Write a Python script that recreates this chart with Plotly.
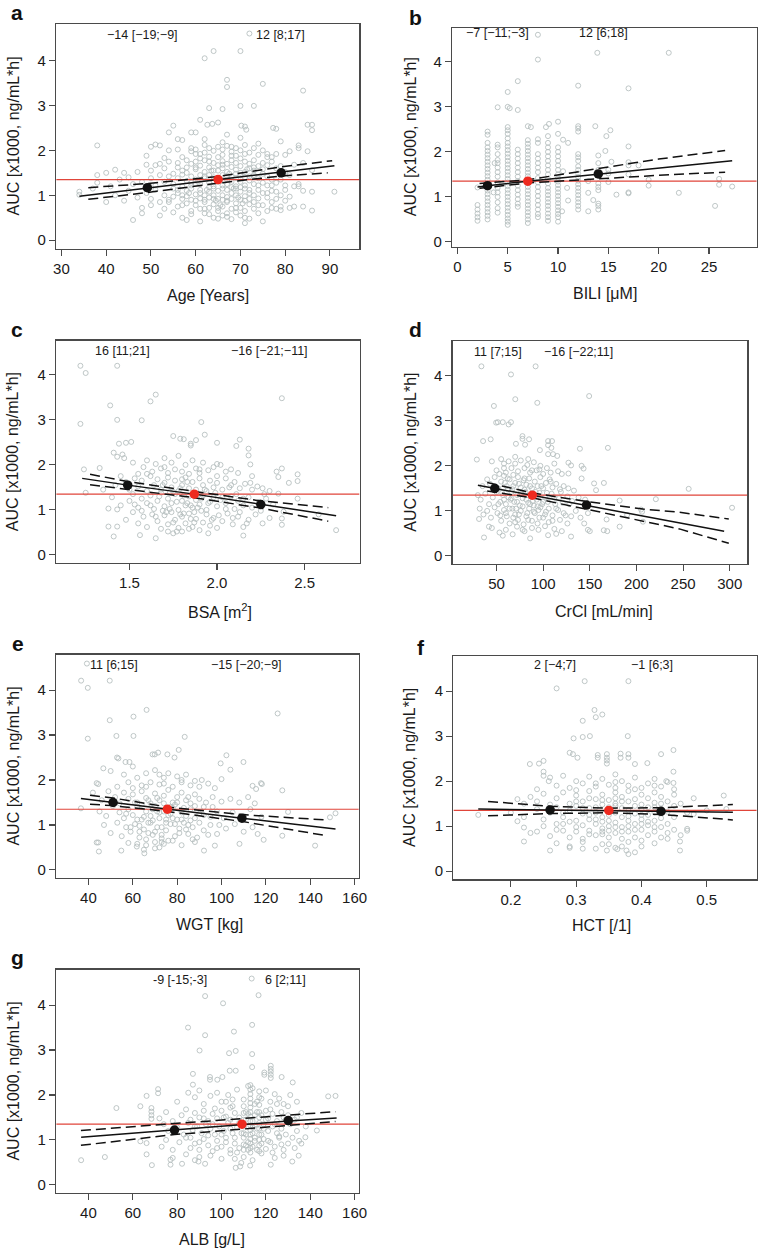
import plotly.graph_objects as go

W, H = 767, 1254
MEDIAN_AUC = 1.35

# ---------------- data: (covariate, AUC x1000) ----------------
age_points = [
(72,4.60),(64,4.21),(70,4.21),(62,4.05),(67,3.57),(67,3.41),(75,3.48),(84,3.33),(63,2.94),(66,2.92),(70,2.99),(73,2.99),
(38,2.11),(61,2.68),(62.6,2.57),(63.7,2.59),(65,2.62),(67,2.35),(70.2,2.55),(71,2.53),(71.3,2.46),(77.3,2.50),(78,2.48),(85,2.57),(86,2.57),(86,2.45),(55,2.55),(54,2.40),(59,2.40),(60,2.40),(56,2.25),(57,2.23),(50,2.08),(51,2.13),(52,2.11),(79,2.20),(83,2.11),(83,2.05),(85,1.98),(62,2.25),
(54,2.0),(56,2.02),(59,2.05),(59,1.98),(60,2.02),(61,1.92),(62,1.95),(63,2.05),(64,1.99),(65,2.08),(66,2.02),(66,1.9),(67,2.1),(68,1.97),(68,2.08),(69,2.05),(69,1.88),(70,2.0),(71,1.92),(71,2.12),(72,1.95),(73,2.05),(74,1.9),(74,2.15),(75,2.0),(76,1.92),(77,1.85),(78,1.92),(80,1.9),(81,1.98),(65,1.85),(57,1.85),(53,1.83),(49,1.88),(61,1.82),(63,1.86),
(38,1.45),(40,1.5),(42,1.57),(44,1.5),(47,1.52),(49,1.68),(50,1.55),(51,1.67),(52,1.7),(53,1.6),(54,1.75),(55,1.48),(56,1.62),(56,1.72),(57,1.55),(58,1.78),(58,1.62),(59,1.7),(60,1.58),(60,1.75),(61,1.66),(62,1.52),(62,1.78),(63,1.62),(64,1.72),(64,1.55),(65,1.67),(66,1.6),(66,1.76),(67,1.52),(67,1.7),(68,1.63),(68,1.78),(69,1.57),(69,1.72),(70,1.65),(70,1.5),(71,1.75),(72,1.6),(72,1.7),(73,1.55),(73,1.78),(74,1.65),(75,1.72),(75,1.58),(76,1.67),(77,1.75),(78,1.6),(79,1.65),(80,1.52),(82,1.68),(84,1.72),(86,1.56),
(34,1.08),(34,1.01),(38,1.28),(41,1.2),(43,1.35),(45,1.4),(46,1.25),(48,1.3),(50,1.38),(51,1.22),(52,1.45),(53,1.3),(54,1.42),(55,1.25),(56,1.38),(57,1.2),(57,1.46),(58,1.32),(59,1.42),(59,1.22),(60,1.35),(61,1.45),(61,1.25),(62,1.38),(63,1.28),(63,1.45),(64,1.2),(64,1.4),(65,1.3),(66,1.45),(66,1.22),(67,1.35),(67,1.25),(68,1.42),(68,1.3),(69,1.2),(69,1.38),(70,1.3),(70,1.45),(71,1.22),(71,1.4),(72,1.33),(73,1.25),(73,1.45),(74,1.38),(75,1.28),(76,1.42),(76,1.22),(77,1.35),(78,1.28),(80,1.22),(81,1.45),(83,1.25),(84,1.1),(86,1.08),(91,1.08),
(37,1.15),(40,0.85),(42,1.0),(44,0.88),(45,1.1),(47,0.95),(48,0.72),(49,1.05),(50,0.92),(51,1.12),(52,0.85),(53,1.0),(54,0.9),(55,1.15),(55,0.97),(56,1.05),(57,0.92),(58,1.1),(58,0.98),(59,0.9),(59,1.15),(60,1.02),(61,0.93),(61,1.12),(62,1.0),(62,0.9),(63,1.08),(63,0.95),(64,1.15),(64,1.0),(65,0.92),(65,1.1),(66,1.0),(66,0.9),(67,1.12),(67,0.96),(68,1.05),(68,0.92),(69,1.15),(69,1.0),(70,0.9),(70,1.08),(71,0.98),(71,1.15),(72,0.92),(72,1.05),(73,1.0),(74,0.93),(74,1.12),(75,1.05),(76,0.95),(77,1.1),(78,0.92),(79,1.0),(80,1.12),(81,0.97),(82,1.2),(83,1.2),(84,0.75),(81,0.72),(79,0.75),
(46,0.45),(48,0.6),(50,0.78),(52,0.55),(53,0.7),(54,0.85),(55,0.62),(56,0.75),(57,0.5),(58,0.82),(58,0.45),(59,0.65),(60,0.78),(61,0.42),(61,0.7),(62,0.85),(62,0.6),(63,0.72),(64,0.5),(64,0.8),(65,0.65),(66,0.75),(66,0.55),(67,0.85),(67,0.6),(68,0.7),(68,0.47),(69,0.82),(69,0.62),(70,0.72),(70,0.55),(71,0.38),(71,0.65),(72,0.8),(72,0.48),(73,0.7),(74,0.6),(75,0.42),(75,0.78),(76,0.65),(77,0.85),(78,0.7),(79,0.67),(80,0.88),(86,0.66),(82,0.75),
(60.5,1.3),(62.5,1.12),(64.5,0.88),(66.5,1.32),(68.5,1.15),(70.5,0.82),(65.5,0.78),(63.5,1.55),(67.5,1.48),(69.5,0.95),(58.5,1.05),(71.5,1.58),
(56,1.12),(57,0.78),(58,1.5),(59,1.28),(60,0.88),(60,1.62),(61,1.05),(62,1.42),(62,0.7),(63,1.18),(63,1.75),(64,0.92),(64,1.32),(65,1.55),(65,0.72),(66,1.15),(66,1.68),(67,0.88),(67,1.42),(68,1.18),(68,1.88),(69,0.72),(69,1.48),(70,1.18),(70,1.82),(71,0.88),(71,1.52),(72,1.12),(72,1.42),(73,0.85),(73,1.62),(74,1.22),(74,0.78),(75,1.48),(76,1.05),(76,1.85),(77,0.72),(77,1.22),(78,1.08),(79,1.35),(60,1.92),(62,2.12),(66,2.18),(70,2.28),(57,1.0),(59,0.58),(63,0.58),(67,0.52),(71,0.5),(65,0.48),
]
age_fit_x = [34, 49.2, 65, 79.1, 91]
age_fit_y = [0.98, 1.16, 1.35, 1.52, 1.66]
age_upper_x = [36, 49, 65, 79, 90.5]
age_upper_y = [1.17, 1.26, 1.42, 1.63, 1.77]
age_lower_x = [36, 49, 65, 79, 89.5]
age_lower_y = [0.91, 1.06, 1.27, 1.43, 1.50]
age_dots_x = [49.2, 65, 79.1]
age_dots_y = [1.17, 1.35, 1.50]
age_stats = ["\u221214 [\u221219;\u22129]", "12 [8;17]"]
age_ticks = [30, 40, 50, 60, 70, 80, 90]

bili_points = [
(2,0.47),(2,0.55),(2,0.63),(2,0.72),(2,0.82),(2,1.21),
(3,0.5),(3,0.58),(3,0.66),(3,0.74),(3,0.82),(3,0.9),(3,0.98),(3,1.06),(3,1.14),(3,1.22),(3,1.3),(3,1.38),(3,1.46),(3,1.54),(3,1.62),(3,1.7),(3,1.78),(3,1.86),(3,1.94),(3,2.02),(3,2.1),(3,2.2),(3,2.38),(3,2.45),
(4,0.65),(4,0.75),(4,0.88),(4,1.0),(4,1.1),(4,1.2),(4,1.32),(4,1.45),(4,1.55),(4,1.65),(4,1.75),(4,1.82),(4,1.95),(4,2.1),(4,2.16),(4,2.99),(3.6,1.1),(3.7,1.75),
(5,0.38),(5,0.45),(5,0.52),(5,0.6),(5,0.68),(5,0.76),(5,0.84),(5,0.92),(5,1.0),(5,1.08),(5,1.16),(5,1.24),(5,1.32),(5,1.4),(5,1.48),(5,1.56),(5,1.64),(5,1.72),(5,1.8),(5,1.88),(5,1.96),(5,2.04),(5,2.12),(5,2.2),(5,2.3),(5,2.4),(5,2.48),(5,2.55),(5,3.0),(5,3.33),(5.2,2.97),
(6,0.78),(6,0.85),(6,0.95),(6,1.05),(6,1.15),(6,1.25),(6,1.35),(6,1.45),(6,1.55),(6,1.65),(6,1.75),(6,1.85),(6,1.95),(6,2.05),(6,2.93),(6,3.57),
(7,0.42),(7,0.5),(7,0.58),(7,0.66),(7,0.74),(7,0.82),(7,0.9),(7,0.98),(7,1.06),(7,1.14),(7,1.22),(7,1.3),(7,1.38),(7,1.46),(7,1.54),(7,1.62),(7,1.7),(7,1.78),(7,1.86),(7,1.94),(7,2.02),(7,2.1),(7,2.18),(7,2.26),(7,2.57),(7.3,2.55),
(8,0.55),(8,0.62),(8,0.72),(8,0.82),(8,0.92),(8,1.02),(8,1.12),(8,1.22),(8,1.32),(8,1.42),(8,1.55),(8,1.65),(8,1.75),(8,1.85),(8,1.95),(8,2.2),(8,2.28),(8,4.05),(8,4.6),
(9,0.47),(9,0.55),(9,0.63),(9,0.72),(9,0.8),(9,0.88),(9,0.96),(9,1.04),(9,1.12),(9,1.2),(9,1.3),(9,1.4),(9,1.5),(9,1.6),(9,1.7),(9,1.8),(9,1.9),(9,2.0),(9,2.1),(9,2.2),(9,2.35),(8.8,2.55),(9.1,2.62),
(10,0.45),(10,0.55),(10,0.62),(10,0.7),(10,0.78),(10,0.86),(10,0.94),(10,1.02),(10,1.1),(10,1.18),(10,1.26),(10,1.34),(10,1.42),(10,1.5),(10,1.6),(10,1.7),(10,1.8),(10,1.9),(10,2.0),(10,2.1),(10,2.4),(10,2.67),
(10.4,0.68),(10.5,1.57),(10.9,1.2),(11,0.92),(11,2.2),(10.5,2.27),
(12,0.72),(12,0.8),(12,0.88),(12,0.96),(12,1.04),(12,1.12),(12,1.2),(12,1.28),(12,1.36),(12,1.44),(12,1.52),(12,1.6),(12,1.68),(12,1.8),(12,1.88),(12,1.95),(12,2.45),(12,2.52),(12,2.57),(12,3.47),
(13,0.68),(13,1.09),(13,1.35),
(14,0.72),(14,0.8),(14,0.85),(13.5,0.93),(14,1.15),(14,1.22),(14,1.3),(14,1.6),(14,1.75),(14,1.92),(13.7,2.57),(13.9,4.2),
(14.8,2.35),(14.7,2.02),(15.2,2.48),(15.3,1.78),(15,1.52),(15,1.33),(15.8,1.05),(15,1.6),
(17,1.77),(17,1.7),(17,1.5),(17,1.1),(17,1.08),(17,2.12),(17,3.41),
(18,1.7),(19,1.38),(19,1.25),(22,1.09),(21,4.2),(25.6,0.8),(26,1.4),(26,1.27),(27.3,1.23),
]
bili_fit_x = [2, 3, 7, 14, 27.3]
bili_fit_y = [1.22, 1.25, 1.35, 1.51, 1.80]
bili_upper_x = [2.2, 7, 14, 20, 26.6]
bili_upper_y = [1.30, 1.38, 1.63, 1.84, 2.03]
bili_lower_x = [2.2, 7, 14, 20, 26.6]
bili_lower_y = [1.19, 1.31, 1.40, 1.48, 1.55]
bili_dots_x = [3, 7, 14]
bili_dots_y = [1.25, 1.35, 1.51]
bili_stats = ["\u22127 [\u221211;\u22123]", "12 [6;18]"]
bili_ticks = [0, 5, 10, 15, 20, 25]

bsa_points = [
(1.22,4.2),(1.25,4.04),(1.43,4.2),(1.65,3.56),(1.62,3.41),(1.39,3.32),(1.43,3.0),(1.22,2.91),(1.57,2.99),(1.91,2.95),(2.37,3.48),(1.93,2.67),(1.75,2.64),(1.79,2.58),(1.81,2.57),(1.88,2.55),(1.85,2.47),(1.85,2.43),(2.0,2.49),(2.13,2.56),(2.11,2.42),(1.44,2.47),(1.48,2.49),(1.51,2.51),(1.41,2.27),(1.43,2.18),(1.46,2.23),(2.18,2.36),(2.18,2.21),(2.19,2.01),(2.37,1.92),(2.34,1.85),(2.35,1.73),(2.41,1.6),(2.46,1.79),(2.46,1.64),(2.68,0.55),(2.58,0.9),(2.37,0.67),(2.37,0.81),(2.38,0.96),(2.46,1.25),(2.35,1.36),(1.24,1.9),(1.25,1.38),(1.33,1.93),(1.38,1.03),(1.38,0.63),(1.41,0.41),(1.43,0.63),(1.43,1.01),(1.56,0.44),(1.65,0.37),(1.75,0.48),(1.8,0.52),(2.15,0.43),
(1.47,2.15),(1.52,2.05),(1.55,1.8),(1.58,1.95),(1.6,2.1),(1.63,1.85),(1.65,2.02),(1.68,1.92),(1.7,2.15),(1.72,1.82),(1.74,2.05),(1.76,1.9),(1.78,2.2),(1.8,1.85),(1.82,2.0),(1.84,1.8),(1.86,2.1),(1.88,1.92),(1.9,1.82),(1.92,2.05),(1.95,1.88),(1.98,1.95),(2.0,2.02),(2.02,2.0),(2.05,1.85),(2.08,1.9),(2.12,1.82),(2.2,1.75),
(1.42,1.55),(1.45,1.75),(1.48,1.62),(1.5,1.45),(1.53,1.7),(1.55,1.52),(1.57,1.65),(1.6,1.42),(1.62,1.75),(1.64,1.55),(1.66,1.68),(1.68,1.45),(1.7,1.6),(1.72,1.72),(1.74,1.5),(1.76,1.65),(1.78,1.42),(1.8,1.55),(1.82,1.72),(1.84,1.48),(1.86,1.62),(1.88,1.45),(1.9,1.7),(1.92,1.55),(1.94,1.42),(1.96,1.65),(1.98,1.5),(2.0,1.6),(2.03,1.45),(2.05,1.7),(2.08,1.55),(2.1,1.62),(2.13,1.48),(2.16,1.58),(2.2,1.45),(2.23,1.52),(2.26,1.48),(2.3,1.42),(1.35,1.45),
(1.4,1.28),(1.45,1.1),(1.5,1.2),(1.52,1.35),(1.55,1.05),(1.57,1.25),(1.6,1.15),(1.62,1.32),(1.64,1.02),(1.66,1.2),(1.68,1.38),(1.7,1.08),(1.72,1.25),(1.74,1.15),(1.76,1.35),(1.78,1.0),(1.8,1.2),(1.82,1.1),(1.84,1.3),(1.86,1.05),(1.88,1.22),(1.9,1.12),(1.92,1.32),(1.94,1.0),(1.96,1.18),(1.98,1.28),(2.0,1.08),(2.02,1.22),(2.05,1.15),(2.08,1.3),(2.1,1.02),(2.12,1.2),(2.15,1.1),(2.18,1.28),(2.2,1.05),(2.24,1.18),(2.28,1.25),(2.32,1.12),
(1.48,0.78),(1.52,0.95),(1.55,0.7),(1.58,0.85),(1.6,0.62),(1.63,0.9),(1.66,0.75),(1.68,0.58),(1.7,0.88),(1.72,0.68),(1.74,0.95),(1.76,0.78),(1.78,0.6),(1.8,0.85),(1.82,0.7),(1.84,0.92),(1.86,0.62),(1.88,0.8),(1.9,0.55),(1.92,0.72),(1.94,0.9),(1.96,0.65),(1.98,0.82),(2.0,0.6),(2.03,0.75),(2.06,0.92),(2.09,0.68),(2.12,0.85),(2.15,0.62),(2.18,0.78),(2.22,0.9),(2.26,0.7),(2.3,0.82),(1.77,0.52),(1.95,0.48),
(1.73,1.02),(1.79,0.9),(1.83,1.15),(1.87,0.95),(1.91,1.25),(1.75,1.4),(1.81,1.32),(1.69,0.98),(1.85,0.8),(1.89,1.05),
(1.62,1.1),(1.65,0.85),(1.67,1.3),(1.69,1.55),(1.71,0.95),(1.73,1.4),(1.75,0.72),(1.77,1.18),(1.79,1.48),(1.81,0.92),(1.83,1.62),(1.85,1.1),(1.87,0.72),(1.89,1.35),(1.91,0.98),(1.93,1.45),(1.95,1.15),(1.97,0.78),(1.99,1.38),(2.01,0.88),(2.03,1.28),(2.05,1.02),(2.07,1.5),(2.09,0.82),(2.11,1.35),(2.13,0.95),(2.15,1.25),(2.17,0.7),(2.19,1.6),(1.6,1.8),(1.7,1.95),(1.8,1.68),(1.9,1.9),(2.0,1.75),(1.57,0.98),(1.53,1.12),(2.25,0.98),(2.27,1.35),(1.72,0.52),(1.84,0.58),
]
bsa_fit_x = [1.23, 1.49, 1.87, 2.25, 2.68]
bsa_fit_y = [1.70, 1.55, 1.35, 1.12, 0.87]
bsa_upper_x = [1.275, 1.49, 1.87, 2.25, 2.635]
bsa_upper_y = [1.79, 1.63, 1.41, 1.20, 1.05]
bsa_lower_x = [1.275, 1.49, 1.87, 2.25, 2.635]
bsa_lower_y = [1.56, 1.46, 1.27, 1.04, 0.75]
bsa_dots_x = [1.49, 1.87, 2.25]
bsa_dots_y = [1.55, 1.35, 1.12]
bsa_stats = ["16 [11;21]", "\u221216 [\u221221;\u221211]"]
bsa_ticks = [1.5, 2.0, 2.5]

crcl_points = [
(33.8,4.21),(65.5,4.03),(91.9,4.21),(47.2,3.33),(70.1,3.48),(93.7,3.4),(149.3,3.55),(35.6,2.55),(28.9,2.14),(43.7,2.59),(49.6,2.96),(51.4,2.97),(56.7,2.97),(63,2.92),(65.5,2.97),(77.8,2.66),(77.8,2.6),(84.9,2.59),(80.6,2.47),(70.8,2.49),(105.3,2.55),(109.5,2.55),(105.3,2.46),(108.8,2.4),(105.3,2.26),(110.6,2.26),(115.1,2.22),(96.5,2.35),(139.4,2.38),(169.4,2.4),(127.1,2.07),(129.9,2.01),(127.1,1.83),(141.2,2.0),(143.3,1.94),(154.6,1.61),(165.1,1.62),(156.7,1.46),(141.2,1.72),(256,1.49),(220.8,1.26),(182,1.23),(205,1.03),(206,0.98),(207,0.76),(190,0.91),(302.5,1.07),(168,0.81),(168.7,0.55),(165,0.57),(182,0.65),(150,0.55),(148,0.58),(129.9,0.43),(105.3,0.46),(114,0.49),(86,0.39),(36.6,0.41),(31.3,0.82),(41.9,0.65),(53.2,0.52),(56.7,0.45),(67.3,0.48),(144,0.72),
(45,2.1),(50,1.9),(55,2.15),(58,2.05),(60,1.85),(63,2.1),(66,1.95),(70,2.05),(73,1.88),(76,2.12),(80,1.95),(83,2.02),(86,1.85),(90,2.08),(93,1.9),(97,2.0),(100,1.82),(104,1.95),(108,1.85),(112,2.05),(116,1.88),(120,1.82),(53,1.82),(68,1.8),
(35,1.55),(40,1.7),(43,1.6),(48,1.75),(52,1.5),(55,1.65),(58,1.78),(61,1.55),(64,1.7),(67,1.48),(70,1.62),(73,1.75),(76,1.52),(79,1.68),(82,1.58),(85,1.72),(88,1.5),(91,1.65),(94,1.55),(97,1.75),(100,1.5),(103,1.62),(107,1.7),(110,1.52),(114,1.6),(118,1.48),(122,1.55),(127,1.5),(133,1.45),(62,1.48),(80,1.47),
(30,1.35),(33,1.25),(38,1.38),(42,1.15),(46,1.3),(50,1.42),(54,1.2),(57,1.35),(60,1.15),(63,1.3),(66,1.42),(69,1.2),(72,1.35),(75,1.12),(78,1.28),(81,1.42),(84,1.18),(87,1.32),(90,1.12),(93,1.25),(96,1.4),(99,1.15),(102,1.3),(105,1.2),(109,1.38),(113,1.15),(117,1.28),(121,1.18),(126,1.32),(131,1.22),(138,1.3),(145,1.25),
(32,1.05),(36,0.92),(40,1.0),(44,0.85),(48,1.08),(51,0.95),(55,0.78),(58,1.02),(61,0.88),(64,0.72),(67,1.05),(70,0.92),(73,0.8),(76,1.0),(79,0.7),(82,0.88),(85,1.05),(88,0.78),(91,0.95),(94,0.72),(97,1.08),(100,0.85),(103,0.98),(106,0.75),(110,0.9),(114,1.05),(118,0.8),(122,0.95),(126,0.72),(130,0.88),(135,1.0),(140,0.85),(148,0.95),
(45,0.62),(60,0.58),(72,0.65),(80,0.55),(88,0.62),(95,0.58),(102,0.66),(112,0.6),(120,0.55),
(65,1.25),(71,1.05),(77,1.38),(83,0.95),(89,1.22),(74,1.6),(86,1.55),(59,1.62),(95,1.02),(68,0.85),
(52,1.15),(54,0.9),(56,1.4),(58,1.25),(60,0.95),(62,1.72),(64,1.05),(66,1.28),(68,1.55),(70,0.75),(72,1.2),(74,0.92),(76,1.4),(78,1.1),(80,1.72),(82,1.25),(84,0.8),(86,1.15),(88,1.9),(90,0.98),(92,1.42),(94,1.1),(96,0.85),(98,1.55),(100,1.2),(102,0.92),(104,1.4),(106,1.05),(108,1.65),(110,0.78),(112,1.3),(116,1.02),(119,1.42),(124,0.9),(128,1.15),(58,1.95),(70,2.2),(84,2.15),(96,1.92),(78,0.58),
]
crcl_fit_x = [30, 48.2, 88.4, 146.5, 294]
crcl_fit_y = [1.57, 1.50, 1.35, 1.13, 0.55]
crcl_upper_x = [40, 88, 146, 207, 246, 299]
crcl_upper_y = [1.63, 1.40, 1.21, 1.04, 0.97, 0.82]
crcl_lower_x = [40, 88, 146, 207, 246, 299]
crcl_lower_y = [1.44, 1.29, 1.04, 0.78, 0.60, 0.28]
crcl_dots_x = [48.2, 88.4, 146.5]
crcl_dots_y = [1.50, 1.35, 1.13]
crcl_stats = ["11 [7;15]", "\u221216 [\u221222;11]"]
crcl_ticks = [50, 100, 150, 200, 250, 300]

wgt_points = [
(39.3,4.59),(36.7,4.21),(39.7,4.05),(49.6,4.21),(49.6,3.33),(60.3,3.41),(66.2,3.56),(39.7,2.92),(52.6,2.98),(60.3,2.98),(83.4,2.96),(125.3,3.48),(68.9,2.57),(69.9,2.57),(71.4,2.61),(75.6,2.57),(80.7,2.67),(78.8,2.5),(102.2,2.55),(109.9,2.4),(99.6,2.37),(104,2.23),(52.9,2.5),(53.5,2.48),(58.5,2.4),(56.7,2.4),(46.7,2.26),(91.1,2.0),(100,2.02),(117.8,1.93),(118.2,1.91),(114,1.87),(115.6,1.8),(127.4,1.77),(43.7,1.93),(44.4,1.91),(36.6,1.37),(44.4,0.61),(43.7,0.61),(44.7,0.41),(54.8,0.43),(61.8,0.52),(65.2,0.37),(92.1,0.43),(108.1,0.58),(97,0.54),(142.2,0.54),(130,1.29),(127.4,0.76),(151.4,1.26),(148.9,1.17),(119,0.67),(116.3,0.8),
(50,2.2),(53,1.85),(56,2.12),(58,1.95),(60,2.3),(62,2.05),(64,1.88),(66,2.15),(68,1.95),(70,2.22),(72,1.9),(74,2.05),(76,2.15),(78,1.85),(80,2.08),(82,1.95),(84,2.12),(86,1.88),(88,1.98),(90,1.85),(94,1.92),(97,1.82),(60,1.82),(72,2.12),
(42,1.72),(46,1.55),(49,1.75),(52,1.62),(54,1.48),(56,1.72),(58,1.58),(60,1.68),(62,1.5),(64,1.75),(66,1.6),(68,1.48),(70,1.7),(72,1.55),(74,1.65),(76,1.78),(78,1.5),(80,1.62),(82,1.72),(84,1.55),(86,1.48),(88,1.68),(90,1.58),(93,1.5),(96,1.62),(100,1.52),(104,1.58),(108,1.5),(112,1.62),(115,1.48),
(45,1.3),(48,1.2),(51,1.42),(54,1.28),(56,1.15),(58,1.35),(60,1.22),(62,1.4),(64,1.12),(66,1.3),(68,1.2),(70,1.42),(72,1.15),(74,1.3),(76,1.22),(78,1.38),(80,1.12),(82,1.28),(84,1.2),(86,1.35),(88,1.15),(90,1.25),(92,1.4),(95,1.18),(98,1.3),(101,1.15),(105,1.28),(110,1.2),(113,1.35),(118,1.18),
(47,1.0),(50,0.82),(53,1.05),(55,0.75),(57,0.95),(59,0.85),(61,1.02),(63,0.72),(65,0.9),(67,1.05),(69,0.78),(71,0.95),(73,0.7),(75,0.88),(77,1.02),(79,0.75),(81,0.92),(83,1.05),(85,0.8),(87,0.95),(89,0.72),(92,0.88),(95,1.0),(98,0.8),(102,0.92),(106,1.02),(110,0.85),(114,0.95),
(58,0.6),(66,0.55),(70,0.62),(72,0.5),(74,0.58),(78,0.65),(82,0.55),(88,0.62),(65,0.45),
(69,1.1),(73,0.95),(71,1.3),(75,1.05),(67,0.82),(77,1.25),(63,0.98),(79,1.45),(85,1.0),(73,0.62),
(57,1.25),(59,0.95),(61,1.5),(62,1.12),(63,0.85),(64,1.45),(65,1.18),(66,0.68),(67,1.55),(68,1.05),(69,1.35),(70,0.85),(71,1.6),(72,1.28),(73,0.78),(74,1.48),(75,1.12),(76,0.65),(77,1.4),(78,1.15),(79,1.02),(80,1.5),(81,0.82),(82,1.12),(83,1.38),(84,0.9),(85,1.62),(86,1.1),(87,0.68),(88,1.42),(90,1.05),(92,1.22),(94,0.78),(96,1.4),(99,1.0),(66,1.85),(74,1.92),(82,2.0),(62,0.58),(70,0.48),
]
wgt_fit_x = [36.6, 51.1, 75.6, 109.2, 151.4]
wgt_fit_y = [1.59, 1.50, 1.35, 1.15, 0.91]
wgt_upper_x = [40.7, 51, 75.6, 109, 147.4]
wgt_upper_y = [1.66, 1.60, 1.40, 1.23, 1.11]
wgt_lower_x = [40.7, 51, 75.6, 109, 147.4]
wgt_lower_y = [1.46, 1.43, 1.30, 1.08, 0.76]
wgt_dots_x = [51.1, 75.6, 109.2]
wgt_dots_y = [1.50, 1.35, 1.15]
wgt_stats = ["11 [6;15]", "\u221215 [\u221220;\u22129]"]
wgt_ticks = [40, 60, 80, 100, 120, 140, 160]

hct_points = [
(0.27,4.06),(0.313,4.22),(0.38,4.22),(0.328,3.58),(0.34,3.48),(0.33,3.42),(0.31,3.34),(0.379,3.0),(0.31,2.98),(0.321,3.0),(0.296,2.95),(0.29,2.63),(0.295,2.6),(0.302,2.52),(0.333,2.58),(0.333,2.52),(0.347,2.6),(0.347,2.52),(0.347,2.46),(0.347,2.39),(0.368,2.61),(0.368,2.52),(0.38,2.6),(0.38,2.52),(0.43,2.6),(0.449,2.69),(0.409,2.4),(0.39,2.38),(0.243,2.39),(0.25,2.45),(0.229,2.38),(0.25,2.21),(0.25,2.12),(0.258,2.0),(0.449,2.21),(0.449,1.96),(0.438,2.0),(0.21,1.6),(0.15,1.25),(0.21,1.11),(0.22,0.97),(0.22,0.66),(0.24,0.88),(0.26,0.46),(0.363,0.49),(0.377,0.46),(0.38,0.38),(0.39,0.42),(0.347,0.46),(0.459,0.46),(0.459,0.66),(0.47,0.94),(0.47,0.9),(0.526,1.68),(0.48,1.27),
(0.26,2.08),(0.27,1.9),(0.28,2.12),(0.29,1.85),(0.3,2.0),(0.31,1.95),(0.32,2.1),(0.33,1.88),(0.34,2.05),(0.35,1.92),(0.36,2.15),(0.36,1.85),(0.37,2.0),(0.38,1.9),(0.39,2.08),(0.4,1.85),(0.41,1.95),(0.42,2.05),(0.43,1.88),(0.44,1.98),(0.45,1.82),(0.24,1.82),
(0.22,1.5),(0.23,1.65),(0.24,1.55),(0.25,1.72),(0.26,1.48),(0.27,1.62),(0.28,1.75),(0.29,1.5),(0.3,1.68),(0.31,1.55),(0.32,1.78),(0.33,1.6),(0.34,1.48),(0.34,1.7),(0.35,1.58),(0.36,1.75),(0.36,1.5),(0.37,1.65),(0.38,1.55),(0.38,1.78),(0.39,1.6),(0.4,1.7),(0.4,1.48),(0.41,1.62),(0.42,1.75),(0.42,1.52),(0.43,1.65),(0.44,1.55),(0.45,1.7),(0.46,1.5),(0.48,1.62),
(0.2,1.3),(0.22,1.2),(0.24,1.38),(0.25,1.15),(0.26,1.3),(0.27,1.42),(0.28,1.2),(0.29,1.35),(0.3,1.12),(0.31,1.28),(0.32,1.4),(0.32,1.15),(0.33,1.3),(0.34,1.2),(0.35,1.42),(0.35,1.12),(0.36,1.3),(0.37,1.2),(0.37,1.4),(0.38,1.12),(0.39,1.28),(0.4,1.38),(0.4,1.15),(0.41,1.25),(0.42,1.42),(0.43,1.18),(0.44,1.32),(0.45,1.2),(0.47,1.3),(0.5,1.35),(0.53,1.38),
(0.23,0.85),(0.25,1.0),(0.26,0.78),(0.27,0.92),(0.28,1.05),(0.29,0.75),(0.3,0.88),(0.31,1.02),(0.31,0.72),(0.32,0.9),(0.33,0.8),(0.33,1.05),(0.34,0.95),(0.35,0.75),(0.35,1.0),(0.36,0.85),(0.37,0.72),(0.37,0.98),(0.38,0.88),(0.39,1.05),(0.39,0.75),(0.4,0.92),(0.41,0.8),(0.41,1.02),(0.42,0.88),(0.43,0.75),(0.43,0.98),(0.44,0.85),(0.45,0.92),(0.46,0.8),
(0.27,0.62),(0.29,0.55),(0.31,0.65),(0.33,0.5),(0.35,0.6),(0.36,0.52),(0.38,0.65),(0.4,0.55),(0.42,0.62),(0.29,0.52),
(0.34,1.1),(0.36,0.98),(0.32,1.25),(0.38,1.35),(0.34,0.82),(0.3,1.45),(0.4,1.05),(0.28,0.9),(0.36,1.62),(0.42,1.12),
(0.28,1.3),(0.29,1.1),(0.3,1.55),(0.3,0.98),(0.31,1.4),(0.32,0.82),(0.32,1.62),(0.33,1.15),(0.33,1.42),(0.34,0.88),(0.34,1.58),(0.35,1.25),(0.35,0.9),(0.36,1.45),(0.36,1.08),(0.37,0.88),(0.37,1.55),(0.38,1.0),(0.38,1.22),(0.39,1.45),(0.39,0.92),(0.4,1.25),(0.4,0.68),(0.41,1.42),(0.41,1.1),(0.42,0.98),(0.42,1.3),(0.43,1.5),(0.44,1.05),(0.44,0.72),(0.3,1.8),(0.33,1.95),(0.36,1.98),(0.39,1.82),(0.42,1.9),(0.34,0.6),(0.37,0.55),(0.31,0.5),(0.27,1.05),(0.45,1.45),
]
hct_fit_x = [0.15, 0.26, 0.35, 0.43, 0.54]
hct_fit_y = [1.38, 1.36, 1.35, 1.33, 1.31]
hct_upper_x = [0.165, 0.26, 0.35, 0.43, 0.54]
hct_upper_y = [1.55, 1.44, 1.40, 1.41, 1.48]
hct_lower_x = [0.165, 0.26, 0.35, 0.43, 0.54]
hct_lower_y = [1.23, 1.28, 1.30, 1.26, 1.14]
hct_dots_x = [0.26, 0.35, 0.43]
hct_dots_y = [1.36, 1.35, 1.33]
hct_stats = ["2 [\u22124;7]", "\u22121 [6;3]"]
hct_ticks = [0.2, 0.3, 0.4, 0.5]

alb_points = [
(113.6,4.59),(92.6,4.2),(100.7,4.04),(116.7,4.22),(84.9,3.5),(92.6,3.33),(105.6,3.41),(113.8,3.56),(90.1,2.99),(103.4,2.93),(106.4,2.98),(113.8,2.91),(103.7,2.54),(106.4,2.54),(113.8,2.62),(122.2,2.65),(122.2,2.58),(122.2,2.52),(122.2,2.45),(122.2,2.38),(119.3,2.5),(119.3,2.45),(127.1,2.4),(132.1,2.28),(87.1,2.47),(87.1,2.23),(94.8,2.34),(94.8,2.4),(98.1,2.34),(100.4,2.4),(71.4,2.13),(71.4,2.04),(66.2,1.98),(52.6,1.71),(63.4,1.75),(68.4,1.71),(68.4,1.63),(68.4,1.55),(68.4,1.47),(36.7,0.55),(47.4,0.62),(66.2,0.68),(68.6,0.44),(63.4,0.97),(66.2,0.93),(148.1,1.97),(151.4,1.98),(143,1.21),(137.8,1.06),(131.9,0.52),(134.8,0.65),(122.2,0.45),(112.9,0.43),(106.4,0.38),(108.4,0.41),(108.9,0.49),(82.2,0.47),(77,0.45),(77,0.56),(92.6,0.47),(89.6,0.52),
(113,0.72),(113,0.82),(113,0.92),(113,1.02),(113,1.12),(113,1.22),(113,1.32),(113,1.42),(113,1.52),(113,1.62),(113,1.72),(113,1.82),(113,1.92),(113,2.02),(113,2.12),(113,2.22),
(110,0.78),(110,0.9),(110,1.05),(110,1.15),(110,1.3),(110,1.45),(110,1.6),(110,1.75),(110,1.9),
(117,0.75),(117,0.88),(117,1.0),(117,1.12),(117,1.25),(117,1.38),(117,1.5),(117,1.62),(117,1.78),(117,1.95),(117,2.08),
(80,1.85),(85,2.05),(88,1.95),(90,2.1),(92,1.8),(95,1.98),(98,2.05),(100,1.85),(103,2.0),(105,1.9),(107,2.12),(112,2.2),(114,2.15),(115,1.8),(118,1.92),(120,2.1),(122,1.85),(124,2.02),(126,1.92),(128,1.8),(131,2.0),(134,1.85),(104,1.72),
(72,1.48),(75,1.62),(78,1.42),(82,1.55),(84,1.68),(86,1.45),(88,1.6),(90,1.5),(92,1.65),(94,1.42),(96,1.58),(98,1.48),(100,1.65),(102,1.52),(104,1.45),(106,1.6),(108,1.5),(111,1.45),(112,1.58),(114,1.42),(115,1.55),(116,1.62),(118,1.55),(120,1.65),(121,1.48),(123,1.58),(125,1.42),(127,1.62),(128,1.5),(130,1.55),(133,1.45),(136,1.6),
(74,1.35),(76,1.2),(80,1.28),(83,1.12),(85,1.38),(87,1.22),(89,1.3),(91,1.15),(93,1.35),(95,1.25),(97,1.12),(99,1.3),(101,1.2),(103,1.38),(105,1.15),(107,1.28),(109,1.35),(111,1.12),(112,1.3),(114,1.15),(115,1.32),(116,1.25),(118,1.12),(119,1.35),(121,1.2),(123,1.3),(125,1.15),(127,1.25),(129,1.12),(131,1.35),(134,1.2),(138,1.3),
(73,0.85),(75,1.0),(78,0.78),(81,0.95),(84,1.05),(86,0.82),(88,0.92),(90,0.78),(92,1.02),(94,0.88),(96,0.75),(98,0.98),(100,0.85),(102,1.05),(104,0.78),(106,0.92),(108,0.82),(111,0.88),(112,0.78),(114,0.85),(115,0.98),(116,0.78),(119,1.02),(120,0.8),(122,0.95),(124,0.85),(126,1.05),(128,0.78),(130,0.92),(133,0.82),(135,0.98),
(78,0.6),(84,0.68),(88,0.55),(95,0.65),(100,0.58),(104,0.7),(110,0.62),(114,0.55),(118,0.7),(124,0.6),(128,0.65),
(86,1.05),(88,1.3),(90,0.95),(92,1.48),(94,1.1),(96,1.35),(98,0.82),(100,1.12),(101,1.5),(102,0.95),(104,1.25),(105,1.75),(106,1.05),(107,0.72),(108,1.38),(109,1.15),(111,1.62),(112,0.95),(114,1.28),(115,1.05),(116,1.85),(118,0.92),(119,1.25),(120,1.45),(121,0.98),(122,1.68),(123,0.72),(124,1.35),(125,1.8),(126,1.08),(127,0.9),(129,1.45),(130,1.75),(132,1.05),(134,1.5),(136,0.92),(97,1.7),(102,1.85),(90,0.62),(106,0.58),
]
alb_fit_x = [36.7, 78.8, 109.2, 130.1, 151.9]
alb_fit_y = [1.06, 1.22, 1.35, 1.42, 1.49]
alb_upper_x = [36.6, 78.8, 109, 130, 151.4]
alb_upper_y = [1.21, 1.37, 1.48, 1.56, 1.63]
alb_lower_x = [36.6, 78.8, 109, 130, 151.4]
alb_lower_y = [0.88, 1.12, 1.24, 1.33, 1.41]
alb_dots_x = [78.8, 109.2, 130.1]
alb_dots_y = [1.22, 1.35, 1.43]
alb_stats = ["-9 [-15;-3]", "6 [2;11]"]
alb_ticks = [40, 60, 80, 100, 120, 140, 160]

# ---------------- layout geometry (pixels in the 767x1254 page) ----------------
FONT = "Liberation Sans, Arial, Helvetica, sans-serif"

panels = [
    dict(letter="a", pts=age_points, fx=age_fit_x, fy=age_fit_y, ux=age_upper_x, uy=age_upper_y,
         lx=age_lower_x, ly=age_lower_y, dx=age_dots_x, dy=age_dots_y, stats=age_stats,
         ticks=age_ticks, fmt="{:g}", xtitle="Age [Years]",
         box=(54, 361.5, 24, 249.3), xcal=(30, 59.3, 90, 331.7), ycal=(0, 241, 4, 60.7),
         label=(14, 13), stat_pos=[(141.7, 35), (281.7, 35)], xt=(207.5, 296), yt=(10.5, 136.6)),
    dict(letter="b", pts=bili_points, fx=bili_fit_x, fy=bili_fit_y, ux=bili_upper_x, uy=bili_upper_y,
         lx=bili_lower_x, ly=bili_lower_y, dx=bili_dots_x, dy=bili_dots_y, stats=bili_stats,
         ticks=bili_ticks, fmt="{:g}", xtitle="BILI [\u03bcM]",
         box=(455.7, 764.7, 28, 247.3), xcal=(0, 461, 25, 716.3), ycal=(0, 242.7, 4, 62),
         label=(418, 18), stat_pos=[(502, 33), (609, 33)], xt=(611, 294), yt=(413, 137.6)),
    dict(letter="c", pts=bsa_points, fx=bsa_fit_x, fy=bsa_fit_y, ux=bsa_upper_x, uy=bsa_upper_y,
         lx=bsa_lower_x, ly=bsa_lower_y, dx=bsa_dots_x, dy=bsa_dots_y, stats=bsa_stats,
         ticks=bsa_ticks, fmt="{:.1f}", xtitle="BSA [m<sup>2</sup>]",
         box=(54, 361.7, 341.7, 565), xcal=(1.5, 128.3, 2.5, 306), ycal=(0, 556.7, 4, 376),
         label=(14, 331), stat_pos=[(121.7, 351.7), (270.3, 351.7)], xt=(220, 613), yt=(10.5, 453.3)),
    dict(letter="d", pts=crcl_points, fx=crcl_fit_x, fy=crcl_fit_y, ux=crcl_upper_x, uy=crcl_upper_y,
         lx=crcl_lower_x, ly=crcl_lower_y, dx=crcl_dots_x, dy=crcl_dots_y, stats=crcl_stats,
         ticks=crcl_ticks, fmt="{:g}", xtitle="CrCl [mL/min]",
         box=(456.3, 755.3, 342.3, 566), xcal=(50, 500.7, 300, 737.3), ycal=(0, 557.7, 4, 377),
         label=(419, 331), stat_pos=[(502.5, 352.7), (583.8, 352.7)], xt=(610, 613), yt=(413, 454)),
    dict(letter="e", pts=wgt_points, fx=wgt_fit_x, fy=wgt_fit_y, ux=wgt_upper_x, uy=wgt_upper_y,
         lx=wgt_lower_x, ly=wgt_lower_y, dx=wgt_dots_x, dy=wgt_dots_y, stats=wgt_stats,
         ticks=wgt_ticks, fmt="{:g}", xtitle="WGT [kg]",
         box=(54, 361, 656.7, 880.7), xcal=(40, 86.7, 160, 356.7), ycal=(0, 872.7, 4, 692.3),
         label=(15, 646), stat_pos=[(112.2, 666.7), (247, 666.7)], xt=(209, 927), yt=(10.5, 768.7)),
    dict(letter="f", pts=hct_points, fx=hct_fit_x, fy=hct_fit_y, ux=hct_upper_x, uy=hct_upper_y,
         lx=hct_lower_x, ly=hct_lower_y, dx=hct_dots_x, dy=hct_dots_y, stats=hct_stats,
         ticks=hct_ticks, fmt="{:.1f}", xtitle="HCT [/1]",
         box=(457, 764.7, 658.3, 882.3), xcal=(0.2, 515.3, 0.5, 714), ycal=(0, 874, 4, 693.3),
         label=(424, 650), stat_pos=[(560.5, 667.3), (658, 667.3)], xt=(607, 928), yt=(413, 770.3)),
    dict(letter="g", pts=alb_points, fx=alb_fit_x, fy=alb_fit_y, ux=alb_upper_x, uy=alb_upper_y,
         lx=alb_lower_x, ly=alb_lower_y, dx=alb_dots_x, dy=alb_dots_y, stats=alb_stats,
         ticks=alb_ticks, fmt="{:g}", xtitle="ALB [g/L]",
         box=(54, 361, 972.7, 1196.7), xcal=(40, 86.7, 160, 356.7), ycal=(0, 1188.7, 4, 1008.3),
         label=(15, 961), stat_pos=[(179.2, 983.3), (286.7, 983.3)], xt=(212, 1243), yt=(10.5, 1084.7)),
]


def px_to_val(p, cal):
    v1, p1, v2, p2 = cal
    return v1 + (p - p1) * (v2 - v1) / (p2 - p1)


def fx_(px):
    return px / W


def fy_(py):
    return 1 - py / H


fig = go.Figure()
annotations = []
layout = {}

POINT_COLOR = "#b3bdbd"
RED = "#e0453a"
AXIS_COLOR = "#4a4a4a"
YTITLE = "AUC [x1000, ng/mL*h]"

for i, p in enumerate(panels):
    n = i + 1
    xa = "x" if n == 1 else f"x{n}"
    ya = "y" if n == 1 else f"y{n}"
    xkey = "xaxis" if n == 1 else f"xaxis{n}"
    ykey = "yaxis" if n == 1 else f"yaxis{n}"
    l, r, t, b = p["box"]
    xr = [px_to_val(l, p["xcal"]), px_to_val(r, p["xcal"])]
    yr = [px_to_val(b, p["ycal"]), px_to_val(t, p["ycal"])]

    xs = [q[0] for q in p["pts"]]
    ys = [q[1] for q in p["pts"]]
    fig.add_trace(go.Scatter(x=xs, y=ys, xaxis=xa, yaxis=ya, mode="markers",
                             marker=dict(symbol="circle-open", size=5, color=POINT_COLOR,
                                         line=dict(width=0.85, color=POINT_COLOR)),
                             showlegend=False, hoverinfo="skip"))
    # median reference line across the whole panel
    fig.add_trace(go.Scatter(x=xr, y=[MEDIAN_AUC, MEDIAN_AUC], xaxis=xa, yaxis=ya, mode="lines",
                             line=dict(color=RED, width=1.2), showlegend=False, hoverinfo="skip",
                             cliponaxis=True))
    for cx, cy in ((p["ux"], p["uy"]), (p["lx"], p["ly"])):
        fig.add_trace(go.Scatter(x=cx, y=cy, xaxis=xa, yaxis=ya, mode="lines",
                                 line=dict(color="#111111", width=1.5, dash="10px,5px"),
                                 showlegend=False, hoverinfo="skip"))
    fig.add_trace(go.Scatter(x=p["fx"], y=p["fy"], xaxis=xa, yaxis=ya, mode="lines",
                             line=dict(color="#111111", width=1.5), showlegend=False, hoverinfo="skip"))
    fig.add_trace(go.Scatter(x=p["dx"], y=p["dy"], xaxis=xa, yaxis=ya, mode="markers",
                             marker=dict(size=9.5, color=["#111111", "#ee2a1f", "#111111"],
                                         line=dict(width=0)),
                             showlegend=False, hoverinfo="skip"))

    layout[xkey] = dict(domain=[fx_(l), fx_(r)], range=xr, anchor=ya,
                        tickvals=p["ticks"], ticktext=[p["fmt"].format(v) for v in p["ticks"]],
                        ticks="outside", ticklen=6, tickwidth=1.1, tickcolor=AXIS_COLOR,
                        showline=True, mirror=True, linecolor=AXIS_COLOR, linewidth=1.3,
                        showgrid=False, zeroline=False, showspikes=False,
                        tickfont=dict(family=FONT, size=15, color="#1a1a1a"))
    layout[ykey] = dict(domain=[fy_(b), fy_(t)], range=yr, anchor=xa,
                        tickvals=[0, 1, 2, 3, 4], ticks="outside", ticklen=6, tickwidth=1.1,
                        tickcolor=AXIS_COLOR, showline=True, mirror=True, linecolor=AXIS_COLOR,
                        linewidth=1.3, showgrid=False, zeroline=False, showspikes=False,
                        tickfont=dict(family=FONT, size=15, color="#1a1a1a"))

    annotations.append(dict(text=f"<b>{p['letter']}</b>", x=fx_(p["label"][0]), y=fy_(p["label"][1]),
                            xref="paper", yref="paper", showarrow=False, xanchor="center",
                            yanchor="middle", font=dict(family=FONT, size=21, color="#111")))
    for txt, (sx, sy) in zip(p["stats"], p["stat_pos"]):
        annotations.append(dict(text=txt, x=fx_(sx), y=fy_(sy), xref="paper", yref="paper",
                                showarrow=False, xanchor="center", yanchor="middle",
                                font=dict(family=FONT, size=12.5, color="#1a1a1a")))
    annotations.append(dict(text=p["xtitle"], x=fx_(p["xt"][0]), y=fy_(p["xt"][1]), xref="paper",
                            yref="paper", showarrow=False, xanchor="center", yanchor="middle",
                            font=dict(family=FONT, size=16, color="#1a1a1a")))
    annotations.append(dict(text=YTITLE, x=fx_(p["yt"][0]), y=fy_(p["yt"][1]), xref="paper",
                            yref="paper", showarrow=False, xanchor="center", yanchor="middle",
                            textangle=-90, font=dict(family=FONT, size=16, color="#1a1a1a")))

fig.update_layout(width=W, height=H, margin=dict(l=0, r=0, t=0, b=0),
                  paper_bgcolor="white", plot_bgcolor="white", showlegend=False,
                  hovermode=False, dragmode=False,
                  annotations=annotations, **layout)

fig.write_html("out.html", config={"staticPlot": True, "displayModeBar": False},
               post_script="document.body.style.margin='0';document.body.style.overflow='hidden';")
